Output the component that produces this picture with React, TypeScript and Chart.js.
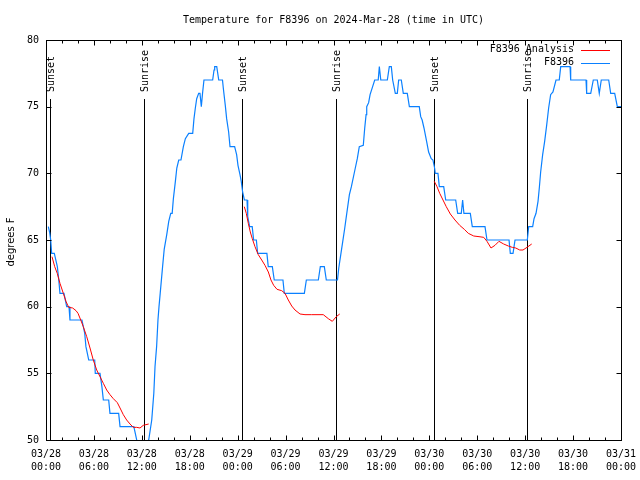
import React, { useEffect, useRef } from "react";
import { Chart, registerables } from "chart.js";

Chart.register(...registerables);

const chartTitle = "Temperature for F8396 on 2024-Mar-28 (time in UTC)";
const yAxisTitle = "degrees F";

const xTickLabels: string[][] = [
  ["03/28", "00:00"], ["03/28", "06:00"], ["03/28", "12:00"], ["03/28", "18:00"],
  ["03/29", "00:00"], ["03/29", "06:00"], ["03/29", "12:00"], ["03/29", "18:00"],
  ["03/30", "00:00"], ["03/30", "06:00"], ["03/30", "12:00"], ["03/30", "18:00"],
  ["03/31", "00:00"],
];
const yTicks = [50, 55, 60, 65, 70, 75, 80];

// Observed station series (hours since 03/28 00:00 UTC, deg F)
const obsHours = [
  0.29, 0.45, 0.59, 0.71, 1.04, 1.42, 1.6, 1.75, 2.25, 2.59, 2.88, 3.0, 4.5, 4.85, 5.0, 5.35, 6.1, 6.17, 6.76, 7.0,
  7.18, 7.85, 8.01, 9.1, 9.27, 11.0, 11.36, 11.6, 12.5, 12.86, 13.24, 13.5, 13.65, 13.85, 14.02, 14.15, 14.3, 14.6, 14.8, 15.12,
  15.37, 15.62, 15.8, 15.95, 16.2, 16.38, 16.62, 16.9, 17.2, 17.45, 17.87, 18.37, 18.53, 18.7, 18.87, 19.12, 19.28, 19.45, 19.6, 19.78,
  20.87, 21.04, 21.12, 21.38, 21.63, 22.1, 22.2, 22.45, 22.62, 22.87, 23.04, 23.62, 23.87, 24.04, 24.29, 24.45, 24.62, 24.84, 25.17, 25.26,
  25.5, 25.82, 26.0, 26.34, 26.5, 27.66, 27.83, 28.34, 28.58, 29.67, 29.84, 32.35, 32.6, 34.1, 34.35, 34.85, 35.1, 36.5, 36.66, 36.91,
  37.16, 37.41, 37.57, 37.99, 38.24, 38.73, 38.98, 39.23, 39.73, 39.91, 40.08, 40.16, 40.4, 40.58, 40.9, 41.16, 41.6, 41.74, 41.92, 42.74,
  42.99, 43.24, 43.41, 43.74, 43.99, 44.16, 44.49, 44.74, 45.24, 45.5, 46.74, 46.92, 47.1, 47.33, 47.66, 47.91, 48.24, 48.45, 48.66, 48.74,
  49.08, 49.25, 49.8, 50.05, 51.3, 51.55, 52.0, 52.17, 52.33, 53.13, 53.38, 54.97, 55.22, 57.98, 58.14, 58.48, 58.73, 60.27, 60.44, 60.94,
  61.11, 61.36, 61.61, 61.77, 61.94, 62.19, 62.44, 62.69, 62.94, 63.19, 63.48, 63.86, 64.27, 64.45, 65.62, 65.7, 67.62, 67.7, 68.21, 68.53,
  69.03, 69.28, 69.53, 70.46, 70.71, 71.21, 71.54, 72.0,
];
const obsTemps = [
  66, 65.6, 65, 64, 64, 63, 62, 61, 61, 60, 60, 59, 59, 58, 57, 56, 56, 55, 55, 54,
  53, 53, 52, 52, 51, 51, 50, 49, 49, 50, 51.5, 53.5, 55.5, 57, 59, 60, 61, 63, 64.3, 65.4,
  66.4, 67, 67, 68.1, 69.4, 70.4, 71, 71, 72, 72.6, 73, 73, 74.1, 74.9, 75.6, 76, 76, 75, 76, 77,
  77, 77.75, 78, 78, 77, 77, 76.4, 75.1, 74.1, 73.1, 72, 72, 71.4, 70.6, 69.9, 69.4, 68.6, 68, 68, 66.75,
  66, 66, 65, 65, 64, 64, 63, 63, 62, 62, 61, 61, 62, 62, 63, 63, 62, 62, 62.9, 63.9,
  64.9, 65.9, 66.6, 68.4, 69, 70.4, 71.1, 72, 72.1, 73.4, 74.4, 75, 75.3, 75.9, 76.5, 77, 77, 78, 77, 77,
  78, 78, 77, 76, 76, 77, 77, 76, 76, 75, 75, 74.25, 74, 73.4, 72.4, 71.6, 71.1, 71, 70.4, 70,
  70, 69, 69, 68, 68, 67, 67, 68, 67, 67, 66, 66, 65, 65, 64, 64, 65, 65, 66, 66,
  66.6, 67, 67.9, 68.9, 70.1, 71.4, 72.4, 73.6, 74.9, 75.9, 76.1, 77, 77, 78, 78, 77, 77, 76, 76, 77,
  77, 76, 77, 77, 76, 76, 75, 75,
];

// Analysis series (null separates the nightly segments)
const anaHours = [
  0.75, 1.09, 1.41, 1.75, 2.17, 2.5, 2.84, 3.34, 3.76, 4.01, 4.35, 4.67, 5.1, 5.51, 5.92, 6.35, 6.76, 7.18, 7.6, 8.01,
  8.43, 8.93, 9.27, 9.68, 10.1, 10.52, 10.93, 11.36, 11.77, 12.18, 12.52, 12.86,
  12.9,
  24.83, 25.08, 25.33, 25.58, 25.83, 26.17, 26.58, 27.01, 27.42, 27.84, 28.17, 28.51, 28.93, 29.51, 29.93, 30.34, 30.77, 31.18, 31.81, 32.43,
  33.27, 34.72, 35.35, 35.85, 36.35, 36.78,
  36.8,
  48.62, 48.96, 49.3, 49.71, 50.12, 50.63, 51.21, 51.8, 52.38, 52.88, 53.56, 54.22, 54.81, 55.22, 55.72, 56.22, 56.72, 57.31, 57.89, 58.39,
  58.82, 59.32, 59.73, 60.23, 60.82,
];
const anaTemps: (number | null)[] = [
  63.75, 63, 62.5, 61.75, 61, 60.4, 59.95, 59.9, 59.7, 59.5, 59, 58.5, 57.75, 56.9, 56, 55.25, 54.75, 54.25, 53.75, 53.4,
  53.1, 52.8, 52.4, 51.9, 51.5, 51.2, 50.95, 50.95, 50.9, 51.1, 51.15, 51.2,
  null,
  67.5, 67, 66.25, 65.6, 65.1, 64.5, 63.9, 63.5, 63.1, 62.6, 62, 61.6, 61.3, 61.2, 61, 60.5, 60.05, 59.75, 59.45, 59.4,
  59.4, 59.4, 59.1, 58.9, 59.25, 59.45,
  null,
  69.4, 69, 68.5, 68, 67.5, 66.95, 66.5, 66.1, 65.8, 65.5, 65.3, 65.25, 65.2, 64.9, 64.4, 64.6, 64.9, 64.7, 64.55, 64.45,
  64.4, 64.25, 64.25, 64.45, 64.7,
];

const sunHours = [0.55, 12.32, 24.57, 36.33, 48.6, 60.27];
const sunLabels = ["Sunset", "Sunrise", "Sunset", "Sunrise", "Sunset", "Sunrise"];

const seriesNames = ["F8396 Analysis", "F8396"];
const seriesColors = ["#ff0000", "#0a80ff"];

const MONO = "'DejaVu Sans Mono', 'Liberation Mono', monospace";
const SANS = "'DejaVu Sans', sans-serif";

const decorPlugin = {
  id: "decor",
  beforeDatasetsDraw(chart: any) {
    const { ctx, chartArea: a, scales } = chart;
    const x = scales.x;
    ctx.save();
    ctx.strokeStyle = "#000";
    ctx.fillStyle = "#000";
    ctx.lineWidth = 1;
    ctx.font = `10px ${MONO}`;
    sunHours.forEach((h, i) => {
      const px = Math.round(x.getPixelForValue(h)) + 0.5;
      ctx.beginPath();
      ctx.moveTo(px, a.top + 59);
      ctx.lineTo(px, a.bottom);
      ctx.stroke();
      ctx.save();
      ctx.translate(px + 1, a.top + 52);
      ctx.rotate(-Math.PI / 2);
      ctx.textAlign = "left";
      ctx.textBaseline = "middle";
      ctx.fillText(sunLabels[i], 0, 0);
      ctx.restore();
    });
    ctx.restore();
  },
  afterDraw(chart: any) {
    const { ctx, chartArea: a, scales } = chart;
    const x = scales.x;
    const y = scales.y;
    ctx.save();
    ctx.strokeStyle = "#000";
    ctx.fillStyle = "#000";
    ctx.lineWidth = 1;
    // frame
    const L = Math.round(a.left) + 0.5;
    const R = Math.round(a.right) + 0.5;
    const T = Math.round(a.top) + 0.5;
    const B = Math.round(a.bottom) + 0.5;
    ctx.strokeRect(L, T, R - L, B - T);
    // x tick marks (major every 6h, minor every 2h), inward on bottom and top
    ctx.beginPath();
    for (let h = 0; h <= 72; h += 2) {
      const px = Math.round(x.getPixelForValue(h)) + 0.5;
      const len = h % 6 === 0 ? 5 : 3;
      ctx.moveTo(px, B);
      ctx.lineTo(px, B - len);
      ctx.moveTo(px, T);
      ctx.lineTo(px, T + len);
    }
    // y tick marks, inward on left and right
    yTicks.forEach((v) => {
      const py = Math.round(y.getPixelForValue(v)) + 0.5;
      ctx.moveTo(L, py);
      ctx.lineTo(L + 5, py);
      ctx.moveTo(R, py);
      ctx.lineTo(R - 5, py);
    });
    ctx.stroke();

    // title
    ctx.font = `10px ${MONO}`;
    ctx.textAlign = "center";
    ctx.textBaseline = "middle";
    ctx.fillText(chartTitle, (a.left + a.right) / 2, 20);

    // y-axis title
    ctx.save();
    ctx.font = `10px ${SANS}`;
    ctx.translate(11, (a.top + a.bottom) / 2 + 2);
    ctx.rotate(-Math.PI / 2);
    ctx.textAlign = "center";
    ctx.textBaseline = "middle";
    ctx.fillText(yAxisTitle, 0, 0);
    ctx.restore();

    // legend
    ctx.font = `10px ${MONO}`;
    ctx.textAlign = "right";
    ctx.textBaseline = "middle";
    seriesNames.forEach((name, i) => {
      const ly = a.top + 9.5 + i * 13;
      ctx.fillStyle = "#000";
      ctx.fillText(name, a.right - 47, ly);
      ctx.strokeStyle = seriesColors[i];
      ctx.beginPath();
      ctx.moveTo(a.right - 40, Math.round(ly) + 0.5);
      ctx.lineTo(a.right - 11, Math.round(ly) + 0.5);
      ctx.stroke();
    });
    ctx.restore();
  },
};

export default function App() {
  const canvasRef = useRef<HTMLCanvasElement | null>(null);

  useEffect(() => {
    const canvas = canvasRef.current;
    if (!canvas) return;
    const anaData = anaHours.map((h, i) => ({ x: h, y: anaTemps[i] }));
    const obsData = obsHours.map((h, i) => ({ x: h, y: obsTemps[i] }));
    const chart = new Chart(canvas, {
      type: "line",
      data: {
        datasets: [
          {
            label: seriesNames[0],
            data: anaData as any,
            borderColor: seriesColors[0],
            borderWidth: 1,
            pointRadius: 0,
            tension: 0,
            spanGaps: false,
          },
          {
            label: seriesNames[1],
            data: obsData as any,
            borderColor: seriesColors[1],
            borderWidth: 1.2,
            pointRadius: 0,
            tension: 0,
          },
        ],
      },
      options: {
        animation: false,
        responsive: false,
        maintainAspectRatio: false,
        devicePixelRatio: 1,
        events: [],
        layout: { padding: { top: 40, right: 19, left: 0, bottom: 0 } },
        plugins: {
          legend: { display: false },
          title: { display: false },
          tooltip: { enabled: false },
        },
        scales: {
          x: {
            type: "linear",
            min: 0,
            max: 72,
            grid: { display: false, drawTicks: false },
            border: { display: false },
            afterFit: (s: any) => {
              s.height = 40;
              s.paddingLeft = 0;
              s.paddingRight = 0;
            },
            ticks: {
              stepSize: 6,
              autoSkip: false,
              maxRotation: 0,
              minRotation: 0,
              padding: 8,
              color: "#000",
              font: { family: MONO, size: 10, lineHeight: 1.27 },
              callback: (v: any) => {
                const idx = Math.round(Number(v) / 6);
                return Number(v) % 6 === 0 ? xTickLabels[idx] : "";
              },
            },
          },
          y: {
            type: "linear",
            min: 50,
            max: 80,
            grid: { display: false, drawTicks: false },
            border: { display: false },
            afterFit: (s: any) => {
              s.width = 46;
              s.paddingTop = 0;
              s.paddingBottom = 0;
            },
            ticks: {
              stepSize: 5,
              padding: 7,
              color: "#000",
              font: { family: MONO, size: 10 },
            },
          },
        },
      },
      plugins: [decorPlugin],
    });
    return () => chart.destroy();
  }, []);

  return (
    <div style={{ position: "fixed", left: 0, top: 0, width: 640, height: 480, background: "#fff" }}>
      <canvas ref={canvasRef} width={640} height={480} style={{ width: 640, height: 480 }} />
    </div>
  );
}
